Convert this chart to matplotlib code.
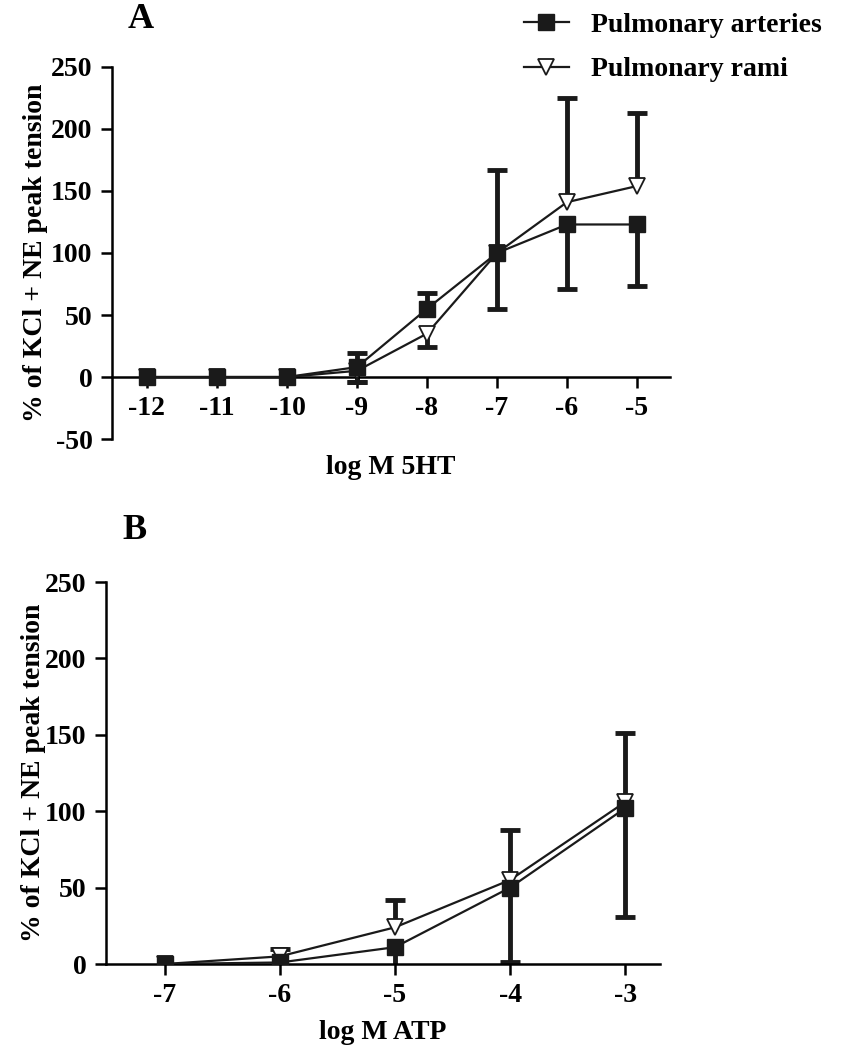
import matplotlib
matplotlib.use("Agg")
import matplotlib.pyplot as plt
import numpy as np

plt.rcParams['font.family'] = ['Liberation Serif', 'DejaVu Serif']
plt.rcParams['font.weight'] = 'bold'
plt.rcParams['font.size'] = 20
plt.rcParams['axes.unicode_minus'] = False

# ---- Panel A: 5HT ----
x_5ht = [-12, -11, -10, -9, -8, -7, -6, -5]
art_5ht = [0, 0, 0, 8, 55, 100, 123, 123]
art_5ht_lo = [0, 0, 0, 12, 0, 45, 52, 50]
art_5ht_hi = [0, 0, 0, 11, 13, 0, 0, 0]
rami_5ht = [0, 0, 0, 5, 35, 100, 141, 154]
rami_5ht_lo = [0, 0, 0, 9, 11, 0, 0, 0]
rami_5ht_hi = [0, 0, 0, 0, 0, 67, 84, 59]

# ---- Panel B: ATP ----
x_atp = [-7, -6, -5, -4, -3]
art_atp = [0, 1, 11, 50, 102]
art_atp_lo = [0, 0, 18, 49, 71]
art_atp_hi = [0, 0, 0, 0, 0]
rami_atp = [0, 5, 24, 55, 106]
rami_atp_lo = [0, 0, 0, 0, 0]
rami_atp_hi = [0, 5, 18, 33, 45]

labels = ['Pulmonary arteries', 'Pulmonary rami']
ylabel = '% of KCl + NE peak tension'
INK = '#1a1a1a'

fig = plt.figure(figsize=(8.48, 10.5), dpi=100)
axA = fig.add_axes([0.132, 0.5819, 0.658, 0.3543])
axB = fig.add_axes([0.125, 0.0819, 0.653, 0.3638])


def one_sided_errors(ax, x, y, lo, hi):
    x = np.asarray(x, float)
    y = np.asarray(y, float)
    lo = np.asarray(lo, float)
    hi = np.asarray(hi, float)
    for err, sign in ((hi, 1), (lo, -1)):
        m = err > 0
        if not m.any():
            continue
        ends = y[m] + sign * err[m]
        ax.vlines(x[m], y[m], ends, color=INK, lw=3.5, zorder=2)
        ax.plot(x[m], ends, ls='none', marker='_', ms=15, mew=3.5,
                color=INK, zorder=2)


def draw(ax, x, a, alo, ahi, r, rlo, rhi):
    one_sided_errors(ax, x, a, alo, ahi)
    one_sided_errors(ax, x, r, rlo, rhi)
    h1, = ax.plot(x, a, color=INK, lw=1.6, marker='s', ms=11,
                  mfc=INK, mec=INK, zorder=4)
    h2, = ax.plot(x, r, color=INK, lw=1.6, marker='v', ms=12,
                  mfc='white', mec=INK, mew=1.3, zorder=3)
    for s in ['top', 'right']:
        ax.spines[s].set_visible(False)
    ax.spines['left'].set_linewidth(1.8)
    ax.spines['bottom'].set_linewidth(1.8)
    ax.spines['bottom'].set_position(('data', 0))
    ax.tick_params(length=8, width=1.8, labelsize=20, pad=6)
    ax.set_xticks(x)
    ax.set_xticklabels([str(v) for v in x])
    ax.set_ylabel(ylabel, fontsize=20, fontweight='bold')
    return h1, h2


h1, h2 = draw(axA, x_5ht, art_5ht, art_5ht_lo, art_5ht_hi,
              rami_5ht, rami_5ht_lo, rami_5ht_hi)
axA.set_xlim(-12.5, -4.53)
axA.set_ylim(-50, 250)
axA.set_yticks(np.arange(-50, 251, 50))
axA.set_xlabel('log M 5HT', fontsize=20, fontweight='bold', labelpad=24)
axA.yaxis.set_label_coords(-0.115, 0.5)

draw(axB, x_atp, art_atp, art_atp_lo, art_atp_hi,
     rami_atp, rami_atp_lo, rami_atp_hi)
axB.set_xlim(-7.51, -2.7)
axB.set_ylim(0, 250)
axB.set_yticks(np.arange(0, 251, 50))
axB.set_xlabel('log M ATP', fontsize=20, fontweight='bold', labelpad=8)
axB.yaxis.set_label_coords(-0.108, 0.5)

fig.text(0.166, 0.981, 'A', fontsize=26, fontweight='bold', ha='center', va='center')
fig.text(0.159, 0.495, 'B', fontsize=26, fontweight='bold', ha='center', va='center')

fig.legend([h1, h2], labels, loc='upper left', bbox_to_anchor=(0.605, 0.999),
           frameon=False, fontsize=20, handlelength=1.6, handletextpad=0.8,
           labelspacing=0.7, borderaxespad=0)

fig.savefig('out.png', dpi=100)
